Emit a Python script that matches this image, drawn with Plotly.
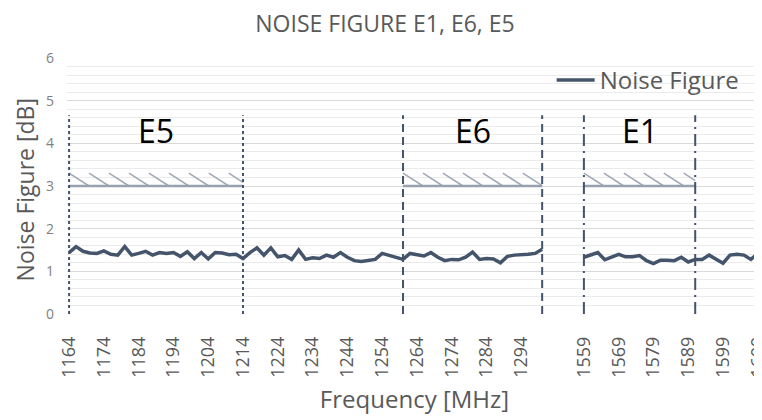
import plotly.graph_objects as go

# frequency categories (MHz), two blocks with an empty gap between them
freq_low = list(range(1164, 1302, 2))   # 1164 .. 1300
freq_e1 = list(range(1559, 1613, 2))    # 1559 .. 1611
gap_slots = 5

nf_low = [1.44, 1.58, 1.47, 1.43, 1.42, 1.48, 1.40, 1.38, 1.58, 1.38,
          1.42, 1.47, 1.38, 1.44, 1.42, 1.44, 1.35, 1.46, 1.30, 1.44,
          1.29, 1.44, 1.43, 1.39, 1.40, 1.30, 1.44, 1.55, 1.38, 1.55,
          1.34, 1.37, 1.28, 1.50, 1.28, 1.32, 1.30, 1.38, 1.33, 1.44,
          1.33, 1.25, 1.23, 1.25, 1.28, 1.42, 1.38, 1.34, 1.28, 1.42,
          1.38, 1.36, 1.44, 1.33, 1.25, 1.28, 1.27, 1.33, 1.45, 1.28,
          1.30, 1.29, 1.20, 1.35, 1.38, 1.38, 1.40, 1.42, 1.52]
nf_e1 = [1.33, 1.38, 1.44, 1.27, 1.34, 1.40, 1.34, 1.34, 1.37, 1.25,
         1.18, 1.26, 1.26, 1.25, 1.33, 1.22, 1.28, 1.28, 1.38, 1.28,
         1.19, 1.38, 1.40, 1.38, 1.28, 1.42, 1.35]

tick_low = [1164, 1174, 1184, 1194, 1204, 1214, 1224, 1234, 1244, 1254,
            1264, 1274, 1284, 1294]
tick_e1 = [1559, 1569, 1579, 1589, 1599, 1609]

band_names = ["E5", "E6", "E1"]
band_lo = [1164, 1260, 1559]
band_hi = [1214, 1300, 1591]
band_dash = ["dot", "8px,5px", "12px,5px,2px,5px"]
nf_limit = 3.0
hatch_h = 0.3
band_line_top = 4.66

# category slot for every frequency
pos = {f: i for i, f in enumerate(freq_low)}
start_e1 = len(freq_low) + gap_slots
pos.update({f: start_e1 + i for i, f in enumerate(freq_e1)})

line_col = '#44546A'
grey = '#595959'

fig = go.Figure()

# hatched limit areas
hx, hy = [], []
step = 2.87
for lo, hi in zip(band_lo, band_hi):
    a, b = pos[lo], pos[hi]
    x0 = a
    while x0 < b - 0.2:
        x1 = min(x0 + step, b)
        hx += [x0, x1, None]
        hy += [nf_limit + hatch_h, nf_limit + hatch_h - hatch_h * (x1 - x0) / step, None]
        x0 += step
fig.add_trace(go.Scatter(x=hx, y=hy, mode='lines', line=dict(color='#A0A9B6', width=1.5),
                         showlegend=False, hoverinfo='skip'))

# base line of the limit
for lo, hi in zip(band_lo, band_hi):
    fig.add_trace(go.Scatter(x=[pos[lo], pos[hi]], y=[nf_limit, nf_limit], mode='lines',
                             line=dict(color='#97A1AF', width=2.5), showlegend=False,
                             hoverinfo='skip'))

# band borders and names
for name, lo, hi, dash in zip(band_names, band_lo, band_hi, band_dash):
    for f in (lo, hi):
        fig.add_shape(type='line', x0=pos[f], x1=pos[f], y0=0, y1=band_line_top,
                      line=dict(color=line_col, width=2, dash=dash))
    fig.add_annotation(x=(pos[lo] + pos[hi]) / 2, y=4.3, text=name, showarrow=False,
                       font=dict(size=32, color='#000000'))

# measured noise figure
x_all = [pos[f] for f in freq_low] + [None] + [pos[f] for f in freq_e1]
y_all = nf_low + [None] + nf_e1
fig.add_trace(go.Scatter(x=x_all, y=y_all, mode='lines', name='Noise Figure',
                         line=dict(color=line_col, width=3.5)))

# y title as an annotation so it can sit closer to the page edge
fig.add_annotation(text='Noise Figure [dB]', xref='paper', yref='paper', x=-0.06, y=0.484,
                   textangle=-90, showarrow=False, xanchor='center', yanchor='middle',
                   font=dict(size=23, color=grey))

ticks = tick_low + tick_e1
fig.update_xaxes(range=[-0.3, 99.6], tickvals=[pos[t] for t in ticks],
                 ticktext=[str(t) for t in ticks], tickangle=-90,
                 tickfont=dict(size=18, color=grey), showgrid=False, zeroline=False,
                 ticklabelstandoff=18, ticklabeloverflow='allow', automargin=False,
                 title=dict(text='Frequency [MHz]', font=dict(size=24, color=grey), standoff=14))
fig.update_yaxes(range=[0, 6], dtick=1, showgrid=True, gridcolor='#D9D9D9', gridwidth=1,
                 minor=dict(dtick=0.2, showgrid=True, gridcolor='#EBEBEB', gridwidth=1),
                 zeroline=False, tickfont=dict(size=14, color='#7F7F7F'),
                 ticklabelstandoff=12, automargin=False)

# the page adds an 8px body margin, so the figure is 8px smaller than the window
fig.update_layout(
    width=754, height=412,
    margin=dict(l=59, r=0, t=50, b=106),
    plot_bgcolor='#FFFFFF', paper_bgcolor='#FFFFFF',
    font=dict(family='Open Sans', color=grey),
    title=dict(text='NOISE FIGURE E1, E6, E5', x=0.5, xref='container', xanchor='center',
               y=0.962, yanchor='middle', font=dict(size=23, color=grey)),
    legend=dict(x=0.975, xanchor='right', y=1.0, yanchor='top', bgcolor='rgba(255,255,255,0)',
                font=dict(size=24, color=grey), itemwidth=38, tracegroupgap=0),
)

fig.write_html("out.html")
